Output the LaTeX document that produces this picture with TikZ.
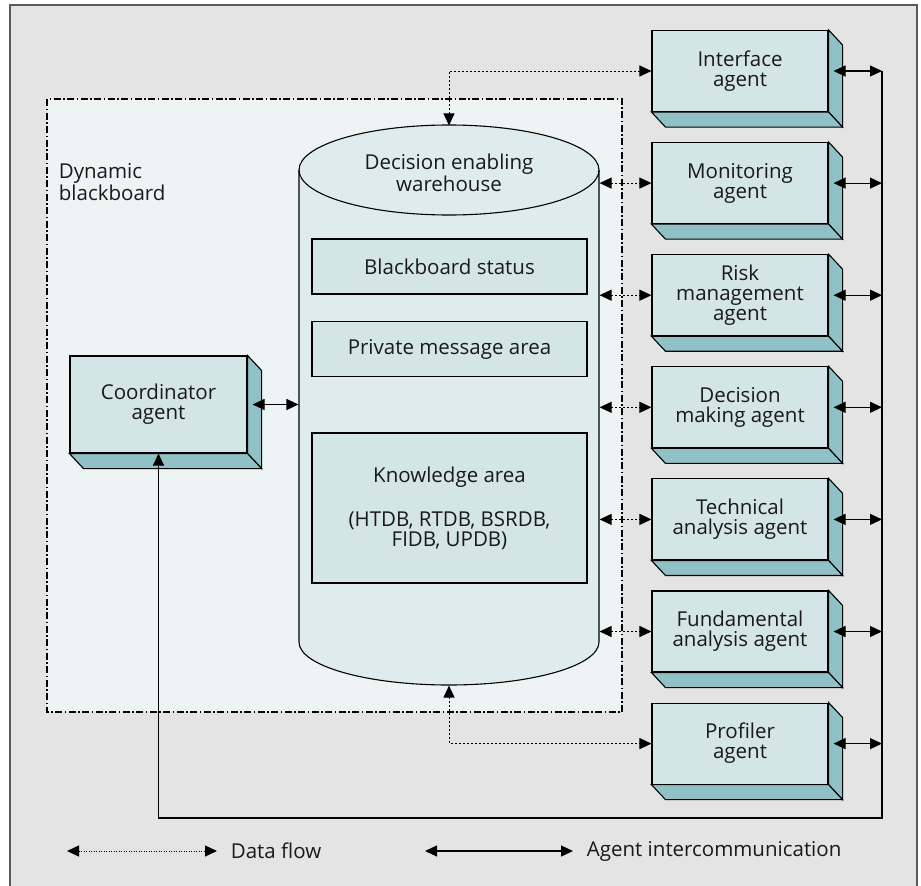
\documentclass[tikz,border=0pt]{standalone}
\usepackage{fontspec}
\setmainfont{Open Sans}
\usetikzlibrary{arrows.meta,positioning}

\definecolor{framebg}{HTML}{E4E4E4}
\definecolor{framegray}{HTML}{5A5A5A}
\definecolor{bbfill}{HTML}{EEF4F4}
\definecolor{cylfill}{HTML}{DFECED}
\definecolor{boxfill}{HTML}{D4E5E8}
\definecolor{sidefill}{HTML}{8FC1C7}

\begin{document}
\begin{tikzpicture}[x=1pt,y=-1pt,line width=1.1pt,
	lbl/.style={font=\fontsize{20.5}{20}\selectfont, align=center, text=black!90},
	agent/.style={lbl, draw, fill=boxfill, inner sep=0pt, minimum width=176pt, minimum height=81pt},
	area/.style={lbl, draw, fill=boxfill, inner sep=0pt, minimum width=275pt},
	sideface/.style={draw, fill=sidefill},
	dataflow/.style={line width=1pt, dash pattern=on 2pt off 2pt, {Triangle[length=12pt,width=11pt]}-{Triangle[length=12pt,width=11pt]}},
	intercom/.style={line width=1.1pt, {Triangle[length=12pt,width=11pt]}-{Triangle[length=12pt,width=11pt]}}]
	\useasboundingbox (0,0) rectangle (921,886);
	\clip (0,0) rectangle (921,886);
	% frame
	\fill[white] (0,0) rectangle (921,886);
	\draw[draw=framegray, fill=framebg, line width=1.4pt] (10,900) -- (10,5) -- (917,5) -- (917,900);
	% dynamic blackboard
	\draw[fill=bbfill, dash pattern=on 7pt off 2.5pt on 1.5pt off 2.5pt] (47,99) rectangle (622,712);
	\node[lbl, align=left, anchor=north west] (dbb) at (55,160) {Dynamic\\blackboard};
	% warehouse
	\draw[fill=cylfill] (299,170) -- (299,642) arc[start angle=180, end angle=360, x radius=150pt, y radius=43pt]
		-- (599,170) arc[start angle=0, end angle=180, x radius=150pt, y radius=45pt] -- cycle;
	\draw (299,170) arc[start angle=180, end angle=360, x radius=150pt, y radius=45pt];
	\node[inner sep=0pt, minimum width=300pt, minimum height=559pt] (dew) at (449,405.5) {};
	\node[lbl] (dewname) at (449,173) {Decision enabling\\warehouse};
	\node[area, minimum height=55pt] (bs) at (449.5,266.5) {Blackboard status};
	\node[area, minimum height=55pt] (pma) at (449.5,349) {Private message area};
	\node[area, minimum height=150pt] (ka) at (449.5,508) {Knowledge area\\[24pt](HTDB, RTDB, BSRDB,\\FIDB, UPDB)};
	% agents
	\node[agent] (ia) at (740,71) {Interface\\agent};
	\node[agent, below=30pt of ia] (ma) {Monitoring\\agent};
	\node[agent, below=30pt of ma] (rma) {Risk\\management\\agent};
	\node[agent, below=30pt of rma] (dma) {Decision\\making agent};
	\node[agent, below=30pt of dma] (taa) {Technical\\analysis agent};
	\node[agent, below=30pt of taa] (faa) {Fundamental\\analysis agent};
	\node[agent, below=30pt of faa] (pa) {Profiler\\agent};
	\node[agent, minimum width=177pt, minimum height=97pt] (ca) at (158.5,404.5) {Coordinator\\agent};
	\foreach \a in {ia,ma,rma,dma,taa,faa,pa,ca} {
		\draw[sideface] (\a.north east) -- ++(14,15) -- ([shift={(14,15)}]\a.south east) -- (\a.south east) -- cycle;
		\draw[sideface] (\a.south west) -- (\a.south east) -- ++(14,15) -- ([shift={(14,15)}]\a.south west) -- cycle;
	}
	% data flow
	\draw[dataflow] (dew.north) |- (ia.west);
	\draw[dataflow] (dew.east |- ma.west) -- (ma.west);
	\draw[dataflow] (dew.east |- rma.west) -- (rma.west);
	\draw[dataflow] (dew.east |- dma.west) -- (dma.west);
	\draw[dataflow] (dew.east |- taa.west) -- (taa.west);
	\draw[dataflow] (dew.east |- faa.west) -- (faa.west);
	\draw[dataflow] (dew.south) |- (pa.west);
	% agent intercommunication
	\coordinate (buscorner) at (882,818);
	\draw[intercom] ([xshift=5pt]ca.east) -- (ca.east -| dew.west);
	\draw[intercom] ([xshift=5pt]ia.east) -- (ia.east -| buscorner);
	\draw[intercom] ([xshift=5pt]ma.east) -- (ma.east -| buscorner);
	\draw[intercom] ([xshift=5pt]rma.east) -- (rma.east -| buscorner);
	\draw[intercom] ([xshift=5pt]dma.east) -- (dma.east -| buscorner);
	\draw[intercom] ([xshift=5pt]taa.east) -- (taa.east -| buscorner);
	\draw[intercom] ([xshift=5pt]faa.east) -- (faa.east -| buscorner);
	\draw[intercom] ([xshift=5pt]pa.east) -- (pa.east -| buscorner);
	\draw[line width=1.1pt, -{Triangle[length=12pt,width=11pt]}] (ia.east -| buscorner) -- (buscorner) -| (ca.south);
	% legend
	\coordinate (dfa) at (67,851);
	\coordinate (dfb) at (217,851);
	\coordinate (ica) at (425,851);
	\coordinate (icb) at (573,851);
	\draw[dataflow, dash pattern=on 1pt off 1.5pt] (dfa) -- (dfb);
	\node[lbl, right=10pt of dfb] (dflabel) {Data flow};
	\draw[intercom] (ica) -- (icb);
	\node[lbl, right=10pt of icb] (iclabel) {Agent intercommunication};
\end{tikzpicture}
\end{document}
